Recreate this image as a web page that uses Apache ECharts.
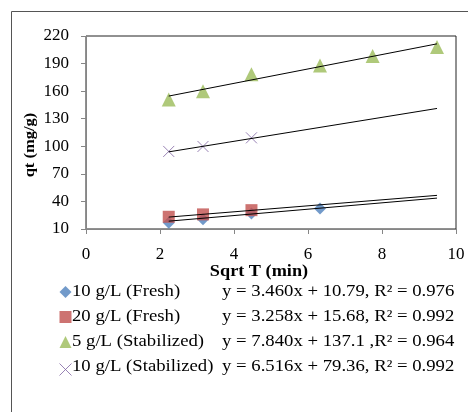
<!DOCTYPE html>
<html>
<head>
<meta charset="utf-8">
<script src="https://cdn.jsdelivr.net/npm/echarts@6/dist/echarts.min.js"></script>
<style>html,body{margin:0;padding:0;background:#fff;}#c{width:468px;height:412px;}</style>
</head>
<body>
<div id="c"></div>
<script>
var seriesNames = ['10 g/L (Fresh)', '20 g/L (Fresh)', '5 g/L (Stabilized)', '10 g/L (Stabilized)'];
var x10Fresh = [2.236, 3.162, 4.472, 6.325];
var y10Fresh = [16.8, 20.5, 27.0, 32.4];
var x20Fresh = [2.236, 3.162, 4.472];
var y20Fresh = [23.3, 25.9, 30.5];
var x5Stab = [2.236, 3.162, 4.472, 6.325, 7.746, 9.487];
var y5Stab = [151, 160, 178.5, 188, 198.3, 208];
var x10Stab = [2.236, 3.162, 4.472];
var y10Stab = [94.4, 99.8, 109.2];
var slopes = [3.460, 3.258, 7.840, 6.516];
var intercepts = [10.79, 15.68, 137.1, 79.36];
var trendRange = [2.236, 9.487];
var equations = ['y = 3.460x + 10.79, R² = 0.976', 'y = 3.258x + 15.68, R² = 0.992', 'y = 7.840x + 137.1 ,R² = 0.964', 'y = 6.516x + 79.36, R² = 0.992'];
var xTicks = [0, 2, 4, 6, 8, 10];
var yTicks = [10, 40, 70, 100, 130, 160, 190, 220];

function pairs(xs, ys) { return xs.map(function (x, i) { return [x, ys[i]]; }); }
function trend(i) { return trendRange.map(function (x) { return [x, slopes[i] * x + intercepts[i]]; }); }

var FONT = 'Liberation Serif';
var STRETCH = 1.17;
var colors = ['#4F81BD', '#C0504D', '#9BBB59', '#8064A2'];
var xPath = 'path://M0,0L10,10M10,0L0,10';

var chart = echarts.init(document.getElementById('c'), null, {renderer: 'canvas'});
var scatterSeries = [
  {name: seriesNames[0], type: 'scatter', data: pairs(x10Fresh, y10Fresh), symbol: 'diamond', symbolSize: 12, itemStyle: {color: colors[0]}},
  {name: seriesNames[1], type: 'scatter', data: pairs(x20Fresh, y20Fresh), symbol: 'rect', symbolSize: 12, itemStyle: {color: colors[1]}},
  {name: seriesNames[2], type: 'scatter', data: pairs(x5Stab, y5Stab), symbol: 'triangle', symbolSize: 14, itemStyle: {color: colors[2]}},
  {name: seriesNames[3], type: 'scatter', data: pairs(x10Stab, y10Stab), symbol: xPath, symbolSize: 11, itemStyle: {color: 'none', borderColor: colors[3], borderWidth: 1}}
];
var trendSeries = [0, 1, 2, 3].map(function (i) {
  return {type: 'line', data: trend(i), showSymbol: false, symbol: 'none', lineStyle: {color: '#000', width: 1}, z: 3, silent: true};
});

var graphics = [
  {type: 'rect', shape: {x: 11.5, y: 11.5, width: 470, height: 410}, style: {fill: 'none', stroke: '#555', lineWidth: 1}, z: -1},
  {type: 'text', x: 30, y: 145, rotation: Math.PI / 2, scaleX: 1.1, style: {text: 'qt (mg/g)', font: 'bold 15px "' + FONT + '"', fill: '#000', align: 'center', verticalAlign: 'middle'}},
  {type: 'text', x: 259, y: 272, scaleX: 1.14, style: {text: 'Sqrt T (min)', font: 'bold 16px "' + FONT + '"', fill: '#000', align: 'center', verticalAlign: 'middle'}}
];
equations.forEach(function (eq, i) {
  graphics.push({type: 'text', x: 222, y: 292 + i * 25, scaleX: STRETCH, style: {text: eq, font: '16px "' + FONT + '"', fill: '#000', align: 'left', verticalAlign: 'middle'}});
});
seriesNames.forEach(function (n, i) {
  graphics.push({type: 'text', x: 72, y: 292 + i * 25, scaleX: STRETCH, style: {text: n, font: '16px "' + FONT + '"', fill: '#000', align: 'left', verticalAlign: 'middle'}});
});

chart.setOption({
  animation: false,
  backgroundColor: '#fff',
  grid: {left: 86, right: 12, top: 36, bottom: 183, show: true, borderColor: '#222', borderWidth: 1},
  xAxis: {
    type: 'value', min: xTicks[0], max: xTicks[xTicks.length - 1], interval: 2,
    axisLine: {onZero: false, lineStyle: {color: '#868686'}},
    axisTick: {show: true, inside: false, length: 5, lineStyle: {color: '#868686'}},
    axisLabel: {margin: 17, color: '#000', fontFamily: FONT, fontSize: 17},
    splitLine: {show: false}
  },
  yAxis: {
    type: 'value', min: yTicks[0], max: yTicks[yTicks.length - 1], interval: 30,
    axisLine: {show: true, onZero: false, lineStyle: {color: '#868686'}},
    axisTick: {show: true, inside: false, length: 5, lineStyle: {color: '#868686'}},
    axisLabel: {margin: 17, color: '#000', fontFamily: FONT, fontSize: 17},
    splitLine: {show: false}
  },
  legend: {
    data: seriesNames.map(function (n, i) {
      return {name: n, icon: i === 0 ? 'diamond' : i === 1 ? 'rect' : i === 2 ? 'triangle' : xPath,
        itemStyle: i === 3 ? {color: 'none', borderColor: colors[3], borderWidth: 1} : {color: colors[i]}};
    }),
    formatter: function () { return ''; },
    orient: 'vertical', left: 57, top: 286, itemWidth: 12, itemHeight: 12, itemGap: 13,
    textStyle: {fontSize: 1, padding: 0},
    selectedMode: false, padding: 0
  },
  graphic: graphics,
  series: scatterSeries.concat(trendSeries)
});
</script>
</body>
</html>
